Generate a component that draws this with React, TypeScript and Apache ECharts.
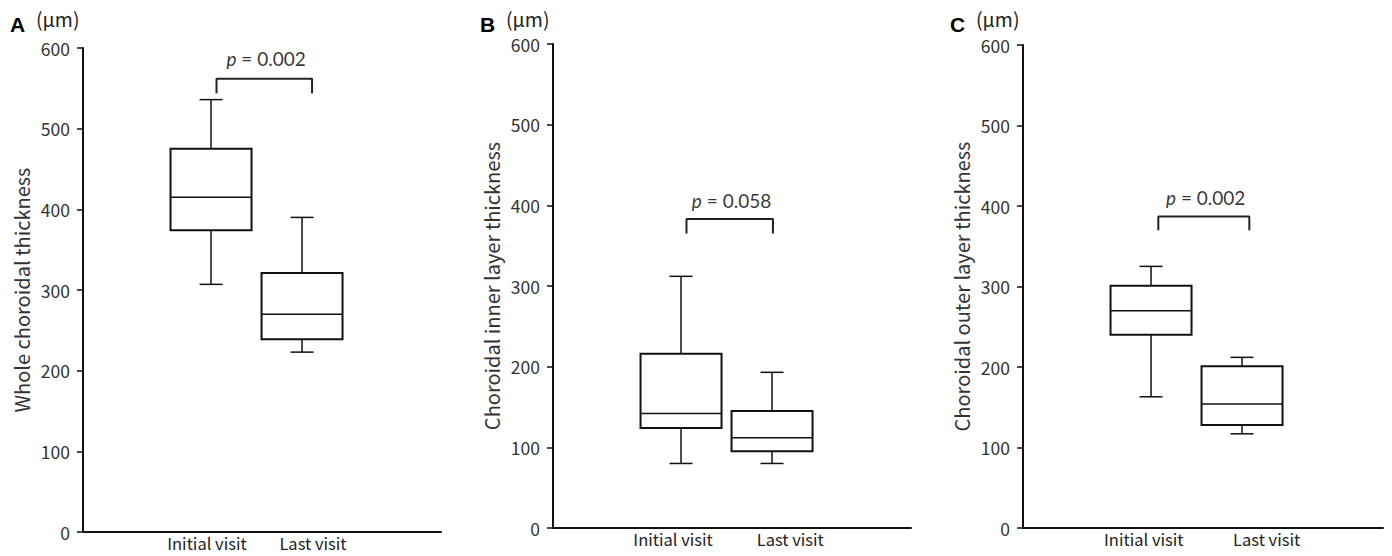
import React, { useEffect, useRef } from "react";
import * as echarts from "echarts";

// ---- data ----
const panelLetters = ["A", "B", "C"];
const categories = ["Initial visit", "Last visit"];
const yTitles = [
  "Whole choroidal thickness",
  "Choroidal inner layer thickness",
  "Choroidal outer layer thickness",
];
const unitLabel = "(μm)";
const yTicks = [0, 100, 200, 300, 400, 500, 600];

// [min, Q1, median, Q3, max]
const wholeInitial = [307, 374, 415, 475, 536];
const wholeLast = [223, 239, 270, 321, 390];
const innerInitial = [80, 124, 142, 216, 312];
const innerLast = [80, 95, 112, 145, 193];
const outerInitial = [163, 240, 270, 301, 325];
const outerLast = [117, 128, 154, 201, 212];

const pValues = ["0.002", "0.058", "0.002"];
const bracketTop = [562, 383, 387];
const bracketLeg = [544, 365, 370];
const bracketLeft = [1.06, 1.06, 1.08];
const bracketRight = [2.11, 2.01, 2.08];
const pTextY = [587, 406, 410];
const labelPositions = [
  [0.955, 2.12],
  [0.912, 2.2],
  [0.92, 2.27],
];

const boxes = [
  [wholeInitial, wholeLast],
  [innerInitial, innerLast],
  [outerInitial, outerLast],
];

// ---- layout ----
const grids = [
  { left: 83, top: 48, width: 358, height: 484 },
  { left: 553, top: 44, width: 358, height: 484 },
  { left: 1023, top: 45, width: 360, height: 483 },
];
const X_MIN = -0.407;
const UNIT_PX = 91;
const FONT = '"Noto Sans CJK JP", "Noto Sans", sans-serif';
const P_FONT = "Lato, 'Open Sans', sans-serif";

export default function App() {
  const ref = useRef<HTMLDivElement>(null);
  useEffect(() => {
    if (!ref.current) return;
    const chart = echarts.init(ref.current, null, { renderer: "svg" });

    const xAxes: any[] = [];
    const yAxes: any[] = [];
    const series: any[] = [];
    const graphics: any[] = [];

    grids.forEach((g, i) => {
      const lp = labelPositions[i];
      xAxes.push({
        type: "value",
        gridIndex: i,
        min: X_MIN,
        max: X_MIN + g.width / UNIT_PX,
        splitLine: { show: false },
        axisLine: { show: true, onZero: false, lineStyle: { color: "#111", width: 2 } },
        axisTick: { show: false },
        axisLabel: {
          show: true,
          customValues: lp,
          formatter: (v: number) =>
            Math.abs(v - lp[0]) < Math.abs(v - lp[1]) ? categories[0] : categories[1],
          color: "#222",
          fontSize: 16.5,
          fontFamily: FONT,
          margin: 3,
        },
      });
      yAxes.push({
        type: "value",
        gridIndex: i,
        min: 0,
        max: 600,
        interval: 100,
        splitLine: { show: false },
        axisLine: { show: true, onZero: false, lineStyle: { color: "#111", width: 2 } },
        axisTick: { show: true, length: 6, lineStyle: { color: "#111", width: 1.5 } },
        axisLabel: {
          color: "#333",
          fontSize: 17.5,
          fontFamily: FONT,
          margin: 13,
          formatter: (v: number) => (yTicks.includes(v) ? String(v) : ""),
        },
        name: yTitles[i],
        nameLocation: "middle",
        nameGap: 52,
        nameTextStyle: { color: "#333", fontSize: 20, fontFamily: FONT },
      });

      series.push({
        type: "custom",
        xAxisIndex: i,
        yAxisIndex: i,
        data: boxes[i].map((b, k) => [k + 1, ...b]),
        renderItem: (params: any, api: any) => {
          const x = api.value(0);
          const vals = [1, 2, 3, 4, 5].map((d) => api.value(d));
          const pts = vals.map((v) => api.coord([x, v]));
          const cx = pts[0][0];
          const hw = 40.5;
          const cw = 11.5;
          const stroke = "#111";
          const thin = { stroke, lineWidth: 1.5 };
          return {
            type: "group",
            children: [
              { type: "line", shape: { x1: cx, y1: pts[3][1], x2: cx, y2: pts[4][1] }, style: thin },
              { type: "line", shape: { x1: cx - cw, y1: pts[4][1], x2: cx + cw, y2: pts[4][1] }, style: thin },
              { type: "line", shape: { x1: cx, y1: pts[1][1], x2: cx, y2: pts[0][1] }, style: thin },
              { type: "line", shape: { x1: cx - cw, y1: pts[0][1], x2: cx + cw, y2: pts[0][1] }, style: thin },
              {
                type: "rect",
                shape: { x: cx - hw, y: pts[3][1], width: hw * 2, height: pts[1][1] - pts[3][1] },
                style: { fill: "#fff", stroke, lineWidth: 2 },
              },
              { type: "line", shape: { x1: cx - hw, y1: pts[2][1], x2: cx + hw, y2: pts[2][1] }, style: thin },
            ],
          };
        },
        z: 3,
      });

      series.push({
        type: "line",
        xAxisIndex: i,
        yAxisIndex: i,
        symbol: "none",
        lineStyle: { color: "#222", width: 2 },
        data: [
          [bracketLeft[i], bracketLeg[i]],
          [bracketLeft[i], bracketTop[i]],
          [bracketRight[i], bracketTop[i]],
          [bracketRight[i], bracketLeg[i]],
        ],
        z: 4,
      });

      series.push({
        type: "scatter",
        xAxisIndex: i,
        yAxisIndex: i,
        symbolSize: 1,
        itemStyle: { color: "rgba(0,0,0,0)" },
        data: [[(bracketLeft[i] + bracketRight[i]) / 2 + 0.02, pTextY[i]]],
        label: {
          show: true,
          position: "inside",
          formatter: `{i|p} = ${pValues[i]}`,
          color: "#000",
          fontSize: 19,
          fontFamily: P_FONT,
          rich: {
            i: { fontStyle: "italic", fontSize: 19, fontFamily: P_FONT, color: "#000" },
          },
        },
        z: 5,
      });

      graphics.push({
        type: "text",
        left: g.left - 73,
        top: 14,
        style: {
          text: panelLetters[i],
          fontSize: 21,
          fontWeight: "bold",
          fontFamily: '"Liberation Sans", Arial, sans-serif',
          fill: "#000",
        },
      });
      graphics.push({
        type: "text",
        left: g.left - 47,
        top: 9,
        style: {
          text: unitLabel,
          fontSize: 19.5,
          fontFamily: FONT,
          fill: "#222",
        },
      });
    });

    chart.setOption({
      animation: false,
      backgroundColor: "#fff",
      grid: grids.map((g) => ({ ...g, containLabel: false })),
      xAxis: xAxes,
      yAxis: yAxes,
      series,
      graphic: graphics,
    });
    return () => chart.dispose();
  }, []);

  return (
    <div
      ref={ref}
      style={{ position: "fixed", left: 0, top: 0, width: 1392, height: 556, background: "#fff" }}
    />
  );
}
